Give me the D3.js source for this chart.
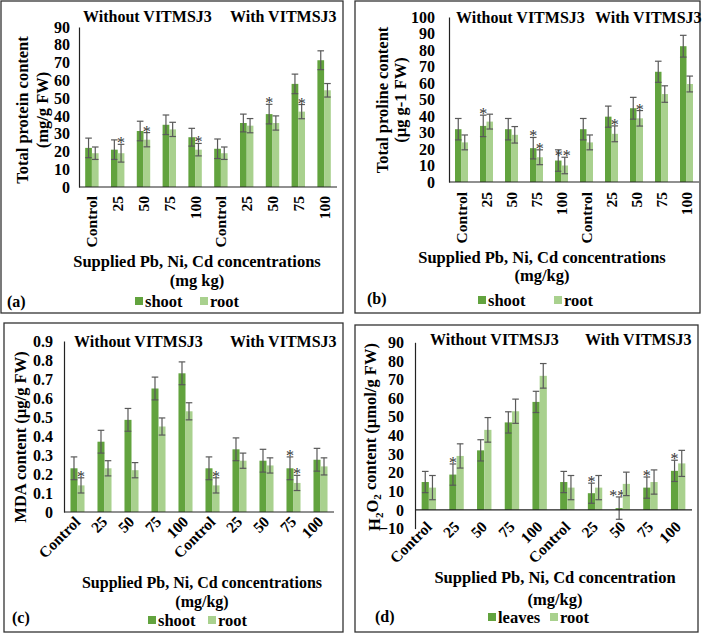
<!DOCTYPE html>
<html lang="en">
<head>
<meta charset="UTF-8">
<title>Pb, Ni, Cd stress - four panels</title>
<script src="https://cdn.jsdelivr.net/npm/d3@7"></script>
<style>
  body { margin: 0; background: #fff; }
  text { font-family: "Liberation Serif", "Times New Roman", serif; font-weight: bold; fill: #000; }
</style>
</head>
<body>
<script>
// x categories: first five without VITMSJ3, last five with it
var categories = ["Control", "25", "50", "75", "100", "Control", "25", "50", "75", "100"];

// (a) total protein content (mg/g FW)
var proteinShoot     = [22, 21, 31.5, 35, 28, 21.5, 36, 41, 58, 71.3];
var proteinShootErr  = [5.5, 5.5, 5.5, 5.5, 5, 5.5, 5, 5.5, 5.5, 5.3];
var proteinRoot      = [19, 19, 26.6, 32.4, 21, 19, 34.5, 36, 42.4, 54.4];
var proteinRootErr   = [3.5, 5, 4, 4, 3.5, 3.5, 4, 4, 4, 3.8];
var proteinShootSig  = ["", "", "", "", "", "", "", "*", "", ""];
var proteinRootSig   = ["", "*", "*", "", "*", "", "", "", "*", ""];

// (b) total proline content (µg g-1 FW)
var prolineShoot     = [32, 34, 32, 20.5, 13, 32, 39.6, 44.7, 66.8, 82.3];
var prolineShootErr  = [6.5, 6.5, 6.5, 6.5, 6.5, 6.5, 6.4, 6.6, 6.4, 6.6];
var prolineRoot      = [24, 36.6, 28.6, 15, 10, 24, 29.2, 38.6, 53.3, 59.4];
var prolineRootErr   = [4.5, 4.5, 5, 4.5, 5, 4.5, 4.8, 4.7, 5, 4.8];
var prolineShootSig  = ["", "*", "", "*", "", "", "", "", "", ""];
var prolineRootSig   = ["", "", "", "*", "**", "", "*", "*", "", ""];

// (c) MDA content (µg/g FW)
var mdaShoot         = [0.23, 0.37, 0.485, 0.65, 0.73, 0.23, 0.33, 0.27, 0.23, 0.275];
var mdaShootErr      = [0.06, 0.06, 0.06, 0.06, 0.06, 0.06, 0.06, 0.06, 0.06, 0.06];
var mdaRoot          = [0.14, 0.23, 0.22, 0.45, 0.53, 0.14, 0.27, 0.245, 0.153, 0.24];
var mdaRootErr       = [0.04, 0.04, 0.04, 0.045, 0.045, 0.04, 0.04, 0.04, 0.04, 0.045];
var mdaShootSig      = ["", "", "", "", "", "", "", "", "*", ""];
var mdaRootSig       = ["*", "", "", "", "", "*", "", "", "*", ""];

// (d) H2O2 content (µmol/g FW)
var h2o2Leaves       = [15, 19, 32, 47, 58, 15, 9, 1, 12, 21];
var h2o2LeavesErr    = [5.7, 5.7, 5.7, 5.7, 5.7, 5.7, 5.4, 6, 5.7, 5.7];
var h2o2Root         = [12, 29, 43, 53, 72, 12, 12, 14, 15, 25];
var h2o2RootErr      = [6.5, 6.5, 6.6, 6.5, 6.6, 6.5, 6.5, 6.3, 6.5, 7];
var h2o2LeavesSig    = ["", "*", "", "", "", "", "*", "**", "*", "*"];
var h2o2RootSig      = ["", "", "", "", "", "", "", "", "", ""];

// y ticks
var proteinTicks = d3.range(0, 91, 10);
var prolineTicks = d3.range(0, 101, 10);
var mdaTicks     = [0, 0.1, 0.2, 0.3, 0.4, 0.5, 0.6, 0.7, 0.8, 0.9];
var h2o2Ticks    = d3.range(-10, 91, 10);

var dark = "#62a33e", light = "#a9d18e", errCol = "#595959";

var svg = d3.select("body").append("svg")
    .attr("width", 704)
    .attr("height", 634);

function panel(c) {
  var g = svg.append("g");

  // frame
  g.append("rect")
    .attr("x", c.box[0]).attr("y", c.box[1])
    .attr("width", c.box[2]).attr("height", c.box[3])
    .attr("fill", "none").attr("stroke", "#333").attr("stroke-width", 1.3);

  var y = d3.scaleLinear().domain(c.domain).range(c.yRange);
  var x = d3.scaleBand().domain(d3.range(categories.length))
      .range([c.left, c.right]).paddingInner(0.48).paddingOuter(0.24);
  var sub = d3.scaleBand().domain([0, 1]).range([0, x.bandwidth()]);

  // bars, error bars and significance marks
  c.series.forEach(function (s, k) {
    var grp = g.append("g");
    s.values.forEach(function (v, i) {
      var x0 = x(i) + sub(k), w = sub.bandwidth(), cx = x0 + w / 2;
      var top = Math.max(v, 0), bot = Math.min(v, 0);
      grp.append("rect")
        .attr("x", x0).attr("width", w)
        .attr("y", y(top)).attr("height", y(bot) - y(top))
        .attr("fill", s.color);
      var hi = y(v + s.err[i]), lo = y(v - s.err[i]);
      grp.append("line").attr("x1", cx).attr("x2", cx).attr("y1", hi).attr("y2", lo)
        .attr("stroke", errCol).attr("stroke-width", 1.2);
      [hi, lo].forEach(function (yy) {
        grp.append("line").attr("x1", cx - 3.3).attr("x2", cx + 3.3).attr("y1", yy).attr("y2", yy)
          .attr("stroke", errCol).attr("stroke-width", 1.2);
      });
      if (s.sig[i]) {
        grp.append("text")
          .attr("x", cx + (s.sig[i].length > 1 ? -2 : 0)).attr("y", hi + 4)
          .attr("text-anchor", "middle")
          .style("font-weight", "normal").style("font-size", "16px").style("fill", "#333")
          .text(s.sig[i]);
      }
    });
  });

  // y axis
  var yAxis = g.append("g")
    .attr("transform", "translate(" + c.left + ",0)")
    .call(d3.axisLeft(y).tickValues(c.ticks).tickSize(0).tickPadding(c.tickPad)
      .tickFormat(c.fmt || d3.format("d")));
  yAxis.select(".domain").attr("stroke", "#222").attr("stroke-width", 1.2);
  yAxis.selectAll("text").style("font-size", "16px").style("font-family", null);

  // zero line
  g.append("line")
    .attr("x1", c.left).attr("x2", c.right)
    .attr("y1", y(0)).attr("y2", y(0))
    .attr("stroke", "#222").attr("stroke-width", 1.2);

  // category labels
  var xAxis = g.append("g")
    .attr("transform", "translate(0," + c.labelY + ")")
    .call(d3.axisBottom(x).tickSize(0).tickFormat(function (i) { return categories[i]; }));
  xAxis.select(".domain").remove();
  xAxis.selectAll("text")
    .attr("x", 0).attr("y", 0).attr("dy", "0.35em")
    .attr("text-anchor", "end")
    .attr("transform", "rotate(" + c.rot + ")")
    .style("font-size", "15.5px").style("font-family", null);

  // group headings
  g.append("text").attr("x", c.head[0]).attr("y", c.head[2]).style("font-size", "16px").text("Without VITMSJ3");
  g.append("text").attr("x", c.head[1]).attr("y", c.head[2]).style("font-size", "16px").text("With VITMSJ3");

  // y title
  c.yTitle.forEach(function (line, j) {
    var t = g.append("text")
      .attr("transform", "translate(" + c.yTitleX[j] + "," + c.yTitleY + ") rotate(-90)")
      .attr("text-anchor", "middle").attr("dy", "0.35em")
      .style("font-size", "16.5px");
    if (typeof line === "string") t.text(line);
    else line(t);
  });

  // x title
  c.xTitle.forEach(function (line, j) {
    g.append("text").attr("x", c.xTitleX).attr("y", c.xTitleY[j])
      .attr("text-anchor", "middle").style("font-size", c.xTitleSize || "16.5px").text(line);
  });

  // legend
  c.series.forEach(function (s, k) {
    var lx = c.legendX[k];
    g.append("rect").attr("x", lx).attr("y", c.legendY - 4).attr("width", 8).attr("height", 8).attr("fill", s.color);
    g.append("text").attr("x", lx + 10).attr("y", c.legendY).attr("dy", "0.35em")
      .style("font-size", "16.5px").text(s.name);
  });

  // panel letter
  g.append("text").attr("x", c.letter[0]).attr("y", c.letter[1]).style("font-size", "16px").text(c.letterText);
}

panel({
  box: [1, 1, 342, 312], left: 79, right: 337, domain: [0, 90], yRange: [187, 27],
  ticks: proteinTicks, tickPad: 9, rot: -90, labelY: 196,
  head: [83, 230, 22],
  yTitle: ["Total protein content", "(mg/g FW)"], yTitleX: [22, 42], yTitleY: 110,
  xTitle: ["Supplied Pb, Ni, Cd concentrations", "(mg kg)"], xTitleX: 197, xTitleY: [267, 286],
  legendX: [135, 200], legendY: 301, letter: [7, 307], letterText: "(a)",
  series: [
    { name: "shoot", color: dark, values: proteinShoot, err: proteinShootErr, sig: proteinShootSig },
    { name: "root", color: light, values: proteinRoot, err: proteinRootErr, sig: proteinRootSig }
  ]
});

panel({
  box: [355, 1, 345, 312], left: 449, right: 699, domain: [0, 100], yRange: [182, 17],
  ticks: prolineTicks, tickPad: 14, rot: -90, labelY: 192,
  head: [456, 595, 23],
  yTitle: ["Total proline content", "(µg g-1 FW)"], yTitleX: [382, 400], yTitleY: 100,
  xTitle: ["Supplied Pb, Ni, Cd concentrations", "(mg/kg)"], xTitleX: 542, xTitleY: [263, 281],
  legendX: [478, 554], legendY: 300, letter: [367, 304], letterText: "(b)",
  series: [
    { name: "shoot", color: dark, values: prolineShoot, err: prolineShootErr, sig: prolineShootSig },
    { name: "root", color: light, values: prolineRoot, err: prolineRootErr, sig: prolineRootSig }
  ]
});

panel({
  box: [4, 323, 339, 309], left: 64, right: 334, domain: [0, 0.9], yRange: [512, 341],
  ticks: mdaTicks, tickPad: 11, rot: -45, labelY: 519,
  fmt: function (d) { return d === 0 ? "0" : d3.format(".1f")(d); },
  head: [74, 230, 347],
  yTitle: ["MDA content (µg/g FW)"], yTitleX: [20], yTitleY: 437,
  xTitle: ["Supplied Pb, Ni, Cd concentrations", "(mg/kg)"], xTitleX: 202, xTitleY: [588, 607], xTitleSize: "16px",
  legendX: [148, 208], legendY: 620, letter: [12, 623], letterText: "(c)",
  series: [
    { name: "shoot", color: dark, values: mdaShoot, err: mdaShootErr, sig: mdaShootSig },
    { name: "root", color: light, values: mdaRoot, err: mdaRootErr, sig: mdaRootSig }
  ]
});

panel({
  box: [355, 325, 343, 307], left: 415, right: 692, domain: [-10, 90], yRange: [528.6, 342.3],
  ticks: h2o2Ticks, tickPad: 11, rot: -45, labelY: 524,
  head: [430, 585, 345],
  yTitle: [function (t) {
    t.append("tspan").text("H");
    t.append("tspan").attr("dy", "0.3em").style("font-size", "11px").text("2");
    t.append("tspan").attr("dy", "-0.3em").text("O");
    t.append("tspan").attr("dy", "0.3em").style("font-size", "11px").text("2");
    t.append("tspan").attr("dy", "-0.3em").text(" content (µmol/g FW)");
  }], yTitleX: [374], yTitleY: 437,
  xTitle: ["Supplied Pb, Ni, Cd concentration", "(mg/kg)"], xTitleX: 555, xTitleY: [583, 605],
  legendX: [488, 550], legendY: 617, letter: [375, 622], letterText: "(d)",
  series: [
    { name: "leaves", color: dark, values: h2o2Leaves, err: h2o2LeavesErr, sig: h2o2LeavesSig },
    { name: "root", color: light, values: h2o2Root, err: h2o2RootErr, sig: h2o2RootSig }
  ]
});
</script>
</body>
</html>
